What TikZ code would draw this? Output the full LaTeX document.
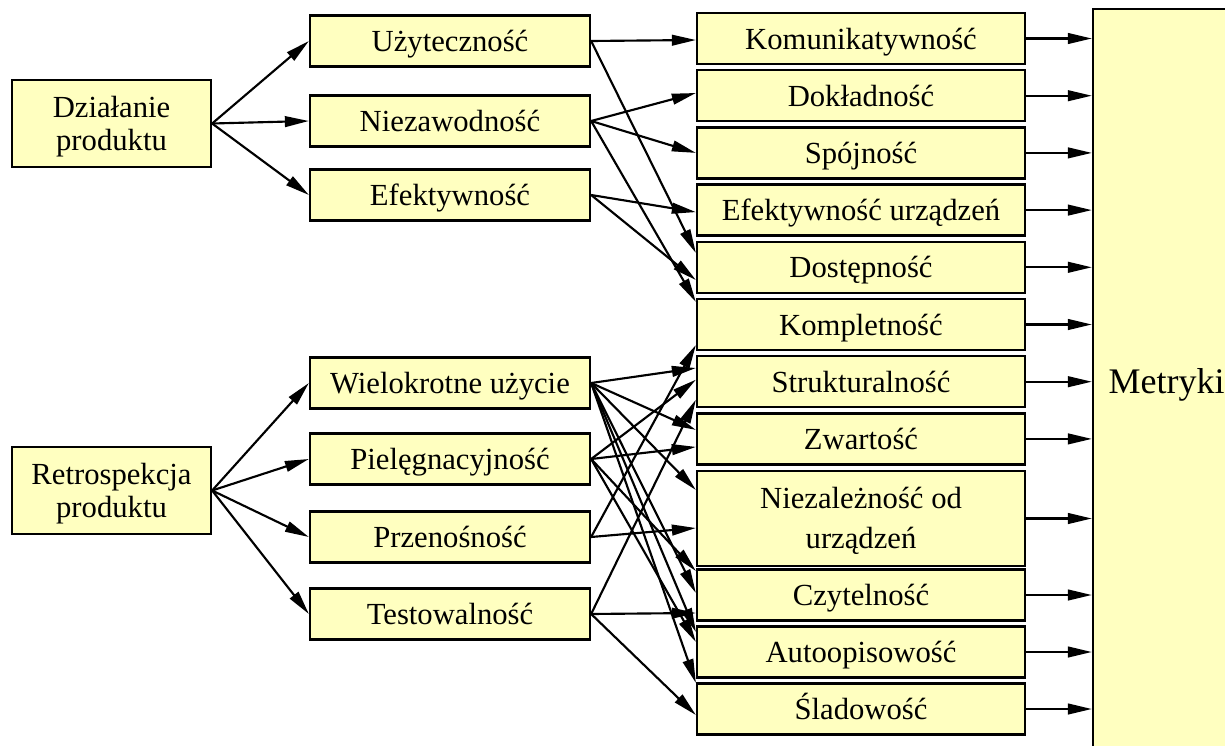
\documentclass[tikz,border=0pt]{standalone}
\usepackage{fontspec}
\setmainfont{Liberation Serif}
\usetikzlibrary{arrows.meta,calc}
\definecolor{boxfill}{RGB}{255,255,192}
\begin{document}
\begin{tikzpicture}[x=0.75pt,y=-0.75pt,
  box/.style={draw=black,line width=1.7pt,fill=boxfill,inner sep=0pt,
    font=\fontsize{23}{25}\selectfont},
  onebox/.style={box,text height=21pt,text depth=5pt},
  leftbox/.style={box,align=center,minimum width=149.25pt,minimum height=65.25pt},
  midbox/.style={onebox,minimum width=210pt,minimum height=38.25pt},
  rightbox/.style={onebox,minimum width=246pt,minimum height=38.25pt},
  arr/.style={line width=1.6pt,-{Triangle[length=18pt,width=8pt]}}]
\useasboundingbox (0,0) rectangle (1225,746);
\clip (0,0) rectangle (1225,746);
% left column
\node[leftbox] (dz) at (111.5,123.5) {\rule{0pt}{21pt}Działanie\\produktu};
\node[leftbox] (re) at (111.5,490.5) {\rule{0pt}{21pt}Retrospekcja\\produktu};
% middle column
\node[midbox] (u) at (450,41) {Użyteczność};
\node[midbox] (n) at (450,121) {Niezawodność};
\node[midbox] (e) at (450,195) {Efektywność};
\node[midbox] (w) at (450,383) {Wielokrotne użycie};
\node[midbox] (p) at (450,459) {Pielęgnacyjność};
\node[midbox] (pr) at (450,537) {Przenośność};
\node[midbox] (t) at (450,614) {Testowalność};
% right column
\node[rightbox] (kom) at (861,38.5) {Komunikatywność};
\node[rightbox] (dok) at (861,95.7) {Dokładność};
\node[rightbox] (spo) at (861,152.9) {Spójność};
\node[rightbox] (efu) at (861,210.1) {Efektywność urządzeń};
\node[rightbox] (dos) at (861,267.3) {Dostępność};
\node[rightbox] (kpl) at (861,324.5) {Kompletność};
\node[rightbox] (str) at (861,381.7) {Strukturalność};
\node[rightbox] (zw) at (861,438.9) {Zwartość};
\node[box,align=center,minimum width=246pt,minimum height=71.25pt,font=\fontsize{23}{30}\selectfont] (nie) at (861,518.5) {\rule{0pt}{19pt}Niezależność od\\urządzeń};
\node[rightbox] (czy) at (861,595) {Czytelność};
\node[rightbox] (aut) at (861,652) {Autoopisowość};
\node[rightbox] (sla) at (861,709) {Śladowość};
% metrics
\node[box,minimum width=110.25pt,minimum height=563.25pt,font=\fontsize{27}{30}\selectfont] (m) at (1166.5,384.5) {Metryki};
% left to middle
\foreach \a in {u,n,e} \draw[arr] (dz.east) -- (\a.west);
\foreach \a in {w,p,pr,t} \draw[arr] (re.east) -- (\a.west);
% middle to right (upper)
\draw[arr] (u.east) -- ($(kom.west)+(0,1.5)$);
\draw[arr] (u.east) -- ($(dos.west)+(0,-14.3)$);
\draw[arr] (n.east) -- ($(dok.west)+(0,-2.7)$);
\draw[arr] (n.east) -- (spo.west);
\draw[arr] (n.east) -- ($(kpl.west)+(0,-22.5)$);
\draw[arr] (e.east) -- ($(efu.west)+(0,2)$);
\draw[arr] (e.east) -- ($(dos.west)+(0,12.7)$);
% middle to right (lower)
\draw[arr] (w.east) -- ($(str.west)+(0,-13.7)$);
\draw[arr] (w.east) -- ($(zw.west)+(0,-9)$);
\draw[arr] (w.east) -- ($(nie.west)+(0,-28.5)$);
\draw[arr] (w.east) -- ($(czy.west)+(0,-2)$);
\draw[arr] (w.east) -- ($(aut.west)+(0,-20)$);
\draw[arr] (w.east) -- ($(sla.west)+(0,-26)$);
\draw[arr] (p.east) -- ($(str.west)+(0,-2)$);
\draw[arr] (p.east) -- ($(zw.west)+(0,8)$);
\draw[arr] (p.east) -- ($(czy.west)+(0,-24)$);
\draw[arr] (p.east) -- ($(aut.west)+(0,-10)$);
\draw[arr] (pr.east) -- ($(kpl.west)+(0,20.5)$);
\draw[arr] (pr.east) -- ($(nie.west)+(0,9.5)$);
\draw[arr] (t.east) -- ($(str.west)+(0,18)$);
\draw[arr] (t.east) -- ($(czy.west)+(0,18)$);
\draw[arr] (t.east) -- ($(sla.west)+(0,6)$);
% right to metrics
\foreach \a in {kom,dok,spo,efu,dos,kpl,str,zw,nie,czy,aut,sla}
  \draw[arr] (\a.east) -- (\a.east -| m.west);
\end{tikzpicture}
\end{document}
